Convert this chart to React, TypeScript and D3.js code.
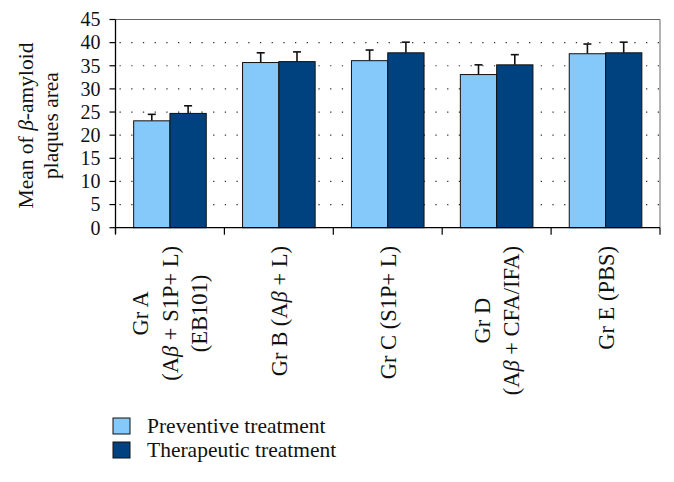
import React, { useEffect, useRef } from "react";
import * as d3 from "d3";

const categories = ["Gr A", "Gr B", "Gr C", "Gr D", "Gr E"];
const categoryLabelLines: string[][] = [
  ["Gr A", "(Aβ + S1P+ L)", "(EB101)"],
  ["Gr B (Aβ + L)"],
  ["Gr C (S1P+ L)"],
  ["Gr D", "(Aβ + CFA/IFA)"],
  ["Gr E (PBS)"],
];
const seriesNames = ["Preventive treatment", "Therapeutic treatment"];
const preventive = [23.1, 35.7, 36.1, 33.1, 37.6];
const preventiveErr = [1.4, 2.1, 2.3, 2.1, 2.1];
const therapeutic = [24.7, 35.9, 37.8, 35.2, 37.8];
const therapeuticErr = [1.65, 2.1, 2.3, 2.2, 2.3];
const yTicks = [0, 5, 10, 15, 20, 25, 30, 35, 40, 45];

const W = 674;
const H = 482;
const FONT = "'Liberation Serif', 'DejaVu Serif', serif";
const COLORS = ["#85C8FA", "#00427F"];

function addBetaText(sel: any, str: string) {
  const parts = str.split("β");
  parts.forEach((p, i) => {
    if (p.length) sel.append("tspan").text(p);
    if (i < parts.length - 1) sel.append("tspan").attr("font-style", "italic").text("β");
  });
}

export default function App() {
  const ref = useRef<SVGSVGElement>(null);

  useEffect(() => {
    const svg = d3.select(ref.current);
    svg.selectAll("*").remove();

    const left = 115.5, right = 660, top = 19.5, bottom = 227.7;
    const x = d3.scaleBand<string>().domain(categories).range([left, right]);
    const xs = d3.scaleBand<string>().domain(["p", "t"]).range([0, x.bandwidth()]).paddingOuter(0.5);
    const y = d3.scaleLinear().domain([0, 45]).range([bottom, top]);

    // gridlines
    svg.append("g").selectAll("line").data(yTicks.filter((t) => t > 0 && t < 45)).join("line")
      .attr("x1", left + 4).attr("x2", right).attr("y1", (d) => y(d)).attr("y2", (d) => y(d))
      .attr("stroke", "#333").attr("stroke-width", 1.2).attr("stroke-dasharray", "1.3 10.4");

    // frame top & right
    svg.append("path").attr("d", `M${left},${top}H${right}V${bottom}`)
      .attr("fill", "none").attr("stroke", "#666").attr("stroke-width", 1);

    const data = [
      { key: "p", vals: preventive, errs: preventiveErr, color: COLORS[0] },
      { key: "t", vals: therapeutic, errs: therapeuticErr, color: COLORS[1] },
    ];

    data.forEach((s) => {
      const g = svg.append("g");
      categories.forEach((c, i) => {
        const bx = (x(c) as number) + (xs(s.key) as number);
        const bw = xs.bandwidth();
        const cx = bx + bw / 2;
        g.append("line").attr("x1", cx).attr("x2", cx).attr("y1", y(s.vals[i])).attr("y2", y(s.vals[i] + s.errs[i]))
          .attr("stroke", "#111").attr("stroke-width", 1.6);
        g.append("line").attr("x1", cx - 4).attr("x2", cx + 4)
          .attr("y1", y(s.vals[i] + s.errs[i])).attr("y2", y(s.vals[i] + s.errs[i]))
          .attr("stroke", "#111").attr("stroke-width", 1.6);
        g.append("rect").attr("x", bx).attr("y", y(s.vals[i])).attr("width", bw)
          .attr("height", y(0) - y(s.vals[i])).attr("fill", s.color).attr("stroke", "#111").attr("stroke-width", 1);
      });
    });

    // y axis
    svg.append("line").attr("x1", left).attr("x2", left).attr("y1", top).attr("y2", bottom + 6)
      .attr("stroke", "#000").attr("stroke-width", 1.3);
    const yg = svg.append("g");
    yTicks.forEach((t) => {
      yg.append("line").attr("x1", left - 6).attr("x2", left).attr("y1", y(t)).attr("y2", y(t))
        .attr("stroke", "#000").attr("stroke-width", 1.2);
      yg.append("text").attr("x", left - 15).attr("y", y(t)).attr("dy", "0.34em")
        .attr("text-anchor", "end").attr("font-family", FONT).attr("font-size", 20).attr("fill", "#111").text(t);
    });

    // x axis
    svg.append("line").attr("x1", left).attr("x2", right).attr("y1", bottom).attr("y2", bottom)
      .attr("stroke", "#000").attr("stroke-width", 1.3);
    const bounds = categories.map((c) => x(c) as number).concat([right]);
    bounds.forEach((b) => {
      svg.append("line").attr("x1", b).attr("x2", b).attr("y1", bottom).attr("y2", bottom + 7)
        .attr("stroke", "#000").attr("stroke-width", 1.2);
    });

    // x labels
    categories.forEach((c, i) => {
      const lines = categoryLabelLines[i];
      const cx = (x(c) as number) + x.bandwidth() / 2;
      const g = svg.append("g");
      const texts = lines.map((ln) => {
        const t = g.append("text").attr("font-family", FONT).attr("font-size", 22.5).attr("fill", "#111")
          .attr("text-anchor", "middle").attr("dominant-baseline", "central");
        addBetaText(t, ln);
        return t;
      });
      const maxLen = d3.max(texts, (t) => (t.node() as SVGTextElement).getComputedTextLength()) || 0;
      const cy = 246 + maxLen / 2;
      texts.forEach((t, j) => {
        const off = (j - (lines.length - 1) / 2) * 29.5;
        t.attr("transform", `translate(${cx + off},${cy}) rotate(-90)`);
      });
    });

    // y title
    const ytl = ["Mean of β-amyloid", "plaques area"];
    ytl.forEach((ln, j) => {
      const t = svg.append("text").attr("font-family", FONT).attr("font-size", 21.5).attr("fill", "#111")
        .attr("text-anchor", "middle").attr("dominant-baseline", "central")
        .attr("transform", `translate(${26 + j * 25},125.5) rotate(-90)`);
      addBetaText(t, ln);
    });

    // legend
    seriesNames.forEach((n, i) => {
      const ly = 418 + i * 24;
      svg.append("rect").attr("x", 113).attr("y", ly).attr("width", 17).attr("height", 16)
        .attr("fill", COLORS[i]).attr("stroke", "#111").attr("stroke-width", 1);
      svg.append("text").attr("x", 147).attr("y", ly + 15).attr("font-family", FONT).attr("font-size", 21.5)
        .attr("fill", "#111").text(n);
    });
  }, []);

  return (
    <svg ref={ref} width={W} height={H}
      style={{ position: "absolute", left: 0, top: 0, background: "#fff" }} />
  );
}
